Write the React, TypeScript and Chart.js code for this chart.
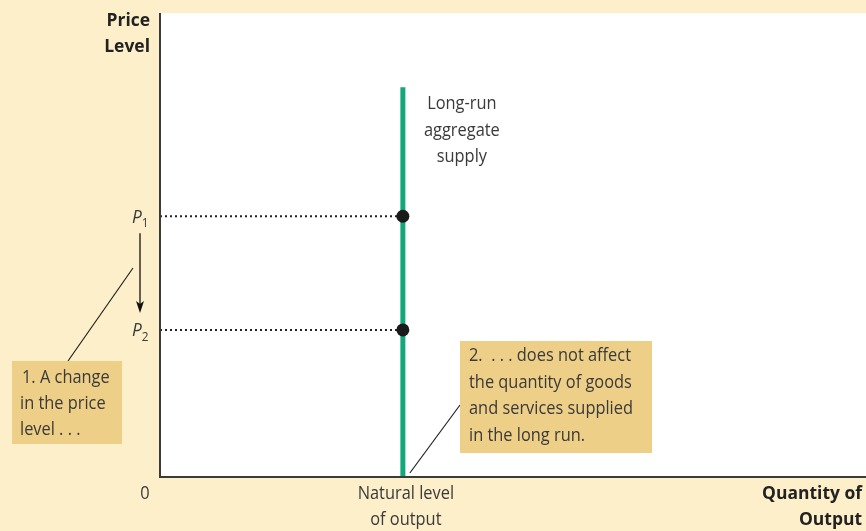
import React, { useEffect, useRef } from "react";
import { Chart, registerables } from "chart.js";

Chart.register(...registerables);

// ---- data ----
const X_RANGE = [0, 10];
const Y_RANGE = [0, 10];
const NATURAL_OUTPUT = 3.44;
const LRAS_TOP = 8.4;
const PRICE_LEVELS = [5.62, 3.17]; // P1, P2
const PRICE_LABELS = ["P1", "P2"];
const X_TICK_LABELS = ["0", "Natural level|of output"];
const Y_TITLE = ["Price", "Level"];
const X_TITLE = ["Quantity of", "Output"];
const LRAS_LABEL = ["Long-run", "aggregate", "supply"];
const NOTE_1 = ["1. A change", "in the price", "level . . ."];
const NOTE_2 = ["2.  . . . does not affect", "the quantity of goods", "and services supplied", "in the long run."];

const GREEN = "#13A77B";
const CREAM = "#FDEFC9";
const BOX = "#EECF88";
const TEXT = "#3a3a3a";
const FONT = '"Open Sans", sans-serif';
const SQUEEZE = 0.91;

function text(ctx: CanvasRenderingContext2D, s: string, x: number, y: number, sx = SQUEEZE) {
  ctx.save();
  ctx.translate(x, y);
  ctx.scale(sx, 1);
  ctx.fillText(s, 0, 0);
  ctx.restore();
}

const decorPlugin = {
  id: "decor",
  beforeDraw(chart: any) {
    const { ctx, chartArea, width, height } = chart;
    ctx.save();
    ctx.fillStyle = CREAM;
    ctx.fillRect(0, 0, width, height);
    ctx.fillStyle = "#ffffff";
    ctx.fillRect(chartArea.left, chartArea.top, chartArea.right - chartArea.left, chartArea.bottom - chartArea.top);
    ctx.restore();
  },
  afterDraw(chart: any) {
    const { ctx, chartArea, scales } = chart;
    const xs = scales.x;
    const ys = scales.y;
    const L = chartArea.left;
    const B = chartArea.bottom;
    ctx.save();
    // axes
    ctx.strokeStyle = "#3b3b3b";
    ctx.lineWidth = 2;
    ctx.beginPath();
    ctx.moveTo(L, chartArea.top);
    ctx.lineTo(L, B);
    ctx.lineTo(chartArea.right, B);
    ctx.stroke();

    // axis titles
    ctx.fillStyle = "#222";
    ctx.textBaseline = "middle";
    ctx.font = `bold 18px ${FONT}`;
    ctx.textAlign = "right";
    text(ctx, Y_TITLE[0], L - 10, 21, 0.97);
    text(ctx, Y_TITLE[1], L - 10, 47, 0.97);
    text(ctx, X_TITLE[0], chartArea.right - 4, B + 17, 0.97);
    text(ctx, X_TITLE[1], chartArea.right - 4, B + 43, 0.97);

    // x tick labels
    ctx.font = `18px ${FONT}`;
    ctx.fillStyle = TEXT;
    ctx.textAlign = "center";
    text(ctx, X_TICK_LABELS[0], xs.getPixelForValue(X_RANGE[0]) - 15, B + 17);
    const nat = X_TICK_LABELS[1].split("|");
    const nx = xs.getPixelForValue(NATURAL_OUTPUT) + 3;
    text(ctx, nat[0], nx, B + 17);
    text(ctx, nat[1], nx, B + 43);

    // price labels with subscripts
    PRICE_LABELS.forEach((lab, i) => {
      const y = ys.getPixelForValue(PRICE_LEVELS[i]);
      ctx.textAlign = "left";
      ctx.font = `italic 19px ${FONT}`;
      text(ctx, lab[0], L - 28, y + 1);
      const w = ctx.measureText(lab[0]).width * SQUEEZE;
      ctx.font = `13px ${FONT}`;
      text(ctx, lab.slice(1), L - 28 + w, y + 7);
    });

    // arrow P1 -> P2
    const ax = L - 20;
    const ay1 = ys.getPixelForValue(PRICE_LEVELS[0]) + 17;
    const ay2 = ys.getPixelForValue(PRICE_LEVELS[1]) - 17;
    ctx.strokeStyle = "#111";
    ctx.lineWidth = 1.3;
    ctx.beginPath();
    ctx.moveTo(ax, ay1);
    ctx.lineTo(ax, ay2 - 6);
    ctx.stroke();
    ctx.fillStyle = "#111";
    ctx.beginPath();
    ctx.moveTo(ax, ay2);
    ctx.lineTo(ax - 4, ay2 - 12);
    ctx.lineTo(ax, ay2 - 9);
    ctx.lineTo(ax + 4, ay2 - 12);
    ctx.closePath();
    ctx.fill();

    // LRAS label
    ctx.fillStyle = TEXT;
    ctx.font = `18px ${FONT}`;
    ctx.textAlign = "center";
    const lx = xs.getPixelForValue(NATURAL_OUTPUT) + 59;
    const ly = ys.getPixelForValue(LRAS_TOP) + 17;
    LRAS_LABEL.forEach((t, i) => text(ctx, t, lx, ly + i * 26.5));

    // note 1
    ctx.strokeStyle = "#222";
    ctx.lineWidth = 1.2;
    ctx.beginPath();
    ctx.moveTo(68, 361);
    ctx.lineTo(133, 268);
    ctx.stroke();
    ctx.fillStyle = BOX;
    ctx.fillRect(12, 361, 110, 83);
    ctx.fillStyle = TEXT;
    ctx.textAlign = "left";
    NOTE_1.forEach((t, i) => text(ctx, t, i === 0 ? 22 : 20, 378 + i * 26));

    // note 2
    const natX = xs.getPixelForValue(NATURAL_OUTPUT);
    ctx.strokeStyle = "#222";
    ctx.beginPath();
    ctx.moveTo(natX + 7, B - 4);
    ctx.lineTo(460, 405);
    ctx.stroke();
    ctx.fillStyle = BOX;
    ctx.fillRect(460, 341, 192, 112);
    ctx.fillStyle = TEXT;
    NOTE_2.forEach((t, i) => text(ctx, t, 469, 356 + i * 26.5));
    ctx.restore();
  },
};

export default function App() {
  const ref = useRef<HTMLCanvasElement | null>(null);
  useEffect(() => {
    if (!ref.current) return;
    const chart = new Chart(ref.current, {
      type: "scatter",
      data: {
        datasets: [
          ...PRICE_LEVELS.map((p) => ({
            type: "line" as const,
            data: [
              { x: X_RANGE[0], y: p },
              { x: NATURAL_OUTPUT, y: p },
            ],
            borderColor: "#222",
            borderWidth: 2,
            borderDash: [2, 3],
            pointRadius: 0,
            fill: false,
            clip: false as any,
            order: 3,
          })),
          {
            type: "line" as const,
            data: [
              { x: NATURAL_OUTPUT, y: Y_RANGE[0] },
              { x: NATURAL_OUTPUT, y: LRAS_TOP },
            ],
            borderColor: GREEN,
            borderWidth: 5,
            pointRadius: 0,
            fill: false,
            clip: false as any,
            order: 2,
          },
          {
            data: PRICE_LEVELS.map((p) => ({ x: NATURAL_OUTPUT, y: p })),
            backgroundColor: "#1a1a1a",
            borderColor: "#1a1a1a",
            borderWidth: 0,
            pointRadius: 6.5,
            clip: false as any,
            order: 1,
          },
        ],
      },
      options: {
        animation: false,
        responsive: false,
        layout: { autoPadding: false, padding: { left: 160, right: 0, top: 13, bottom: 54 } },
        scales: {
          x: { type: "linear", min: X_RANGE[0], max: X_RANGE[1], display: false },
          y: { type: "linear", min: Y_RANGE[0], max: Y_RANGE[1], display: false },
        },
        plugins: { legend: { display: false }, tooltip: { enabled: false } },
      },
      plugins: [decorPlugin],
    });
    return () => chart.destroy();
  }, []);
  return (
    <div style={{ position: "absolute", left: 0, top: 0, width: 866, height: 531 }}>
      <canvas ref={ref} width={866} height={531} />
    </div>
  );
}
